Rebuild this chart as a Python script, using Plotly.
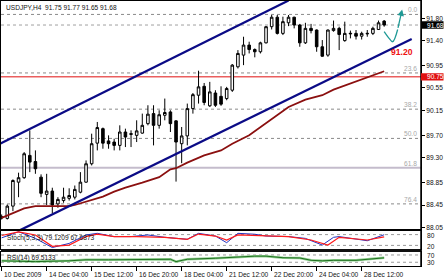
import plotly.graph_objects as go

W, H = 448, 280

# ---------------- data ----------------
bars = list(range(69))
opens = [88.24, 88.21, 88.43, 88.86, 88.94, 89.34, 89.23, 88.95, 88.64, 88.70,
         88.47, 88.53, 88.57, 88.59, 88.68, 88.86, 89.19, 89.56, 89.82, 89.60,
         89.58, 89.52, 89.76, 89.73, 89.70, 89.74, 89.91, 90.09, 89.88, 90.06,
         90.12, 89.96, 89.55, 89.69, 90.18, 90.42, 90.58, 90.23, 90.46, 90.40,
         90.36, 90.51, 90.93, 91.14, 91.32, 91.24, 91.20, 91.36, 91.65, 91.82,
         91.53, 91.72, 91.82, 91.68, 91.36, 91.62, 91.59, 91.29, 91.14, 91.58,
         91.62, 91.40, 91.52, 91.53, 91.48, 91.52, 91.53, 91.60, 91.75]
highs = [88.28, 88.46, 88.91, 89.03, 89.40, 89.79, 89.43, 89.00, 89.01, 88.76,
         88.59, 88.76, 88.75, 88.80, 89.04, 89.25, 89.73, 89.94, 89.84, 89.70,
         89.64, 89.88, 89.82, 89.79, 89.97, 90.09, 90.24, 90.24, 90.15, 90.36,
         90.15, 89.97, 89.85, 90.27, 90.46, 90.86, 90.64, 90.66, 90.51, 90.58,
         90.57, 90.98, 91.23, 91.47, 91.38, 91.26, 91.38, 91.66, 91.86, 91.86,
         91.83, 91.86, 91.83, 91.70, 91.72, 91.70, 91.60, 91.41, 91.60, 91.76,
         91.65, 91.74, 91.58, 91.59, 91.56, 91.59, 91.65, 91.76, 91.77]
lows = [88.19, 88.19, 88.34, 88.59, 88.92, 89.04, 89.01, 88.59, 88.45, 88.30,
        88.40, 88.49, 88.53, 88.55, 88.66, 88.85, 89.16, 89.43, 89.46, 89.46,
        89.43, 89.43, 89.49, 89.49, 89.58, 89.73, 89.88, 89.52, 89.82, 89.97,
        89.76, 88.87, 89.20, 89.52, 90.09, 90.27, 90.24, 90.21, 90.21, 90.23,
        90.33, 90.48, 90.90, 90.96, 91.17, 91.10, 91.17, 91.35, 91.60, 91.51,
        91.50, 91.66, 91.62, 91.29, 91.34, 91.53, 91.20, 91.11, 91.11, 91.56,
        91.23, 91.38, 91.44, 91.42, 91.42, 91.47, 91.50, 91.59, 91.65]
closes = [88.22, 88.43, 88.89, 88.94, 89.37, 89.22, 89.10, 88.66, 88.70, 88.45,
          88.55, 88.59, 88.62, 88.73, 88.86, 89.19, 89.55, 89.84, 89.56, 89.55,
          89.52, 89.76, 89.67, 89.72, 89.78, 89.88, 90.08, 89.88, 90.07, 90.11,
          89.91, 89.58, 89.69, 90.18, 90.43, 90.57, 90.29, 90.48, 90.24, 90.26,
          90.54, 90.96, 91.17, 91.32, 91.24, 91.20, 91.36, 91.65, 91.82, 91.53,
          91.74, 91.82, 91.68, 91.36, 91.62, 91.58, 91.29, 91.12, 91.59, 91.62,
          91.51, 91.53, 91.53, 91.48, 91.53, 91.53, 91.62, 91.72, 91.68]

ma_x = [0, 2, 4, 6, 9, 12, 13, 15, 18, 20, 22, 25, 28, 30, 31, 33, 36, 39, 41,
        44, 46, 48, 51, 54, 57, 59, 62, 65, 68]
ma_y = [88.22, 88.31, 88.39, 88.43, 88.43, 88.43, 88.45, 88.51, 88.60, 88.69,
        88.76, 88.85, 88.95, 89.09, 89.11, 89.21, 89.34, 89.43, 89.55, 89.70,
        89.85, 90.00, 90.21, 90.34, 90.42, 90.52, 90.63, 90.74, 90.85]

upper_x = [-0.3, 51.0]
upper_y = [89.55, 92.12]
lower_x = [3.3, 72.9]
lower_y = [88.00, 91.43]

path_x = [68.0, 68.8, 69.5, 70.4, 71.2]
path_y = [91.56, 91.45, 91.38, 91.60, 91.96]

fib_levels = [91.87, 90.82, 90.17, 89.645, 89.12, 88.47]
fib_labels = ["0.0", "23.6", "38.2", "50.0", "61.8", "76.4"]

price_ticks = [91.80, 91.40, 90.95, 90.55, 90.15, 89.70, 89.30, 88.85, 88.45, 88.05]
last_price = 91.68
red_level = 90.75
target_label = "91.20"

stk_x = [0, 3, 6, 9, 12, 15, 17, 20, 23, 26, 29, 33, 35, 38, 40, 42, 45, 47,
         51, 54, 57, 59, 60, 62, 65, 68]
stk_k = [62, 96, 59, 8, 31, 78, 87, 69, 69, 78, 65, 54, 87, 72, 35, 87, 82, 72,
         69, 59, 22, 65, 69, 59, 46, 79.12]
sig_x = [0, 3, 6, 9, 12, 15, 17, 20, 24, 29, 33, 35, 38, 40, 42, 45, 51, 55,
         58, 60, 65, 68]
sig_d = [75, 95, 78, 15, 22, 69, 83, 69, 69, 65, 54, 83, 72, 50, 78, 75, 69, 50,
         22, 65, 50, 67.69]
stoch_levels = ["80", "20"]

rsi_x = [0, 6, 12, 15, 19, 23, 28, 30, 31, 33, 38, 41, 45, 47, 50, 53, 55, 57,
         59, 63, 65, 68]
rsi_v = [58, 55, 58, 62, 62, 62, 64, 64, 55, 64, 68, 72, 76, 76, 70, 69, 60, 58,
         60, 60, 64, 69.51]
rsi_levels = ["70", "30"]

date_ticks = [0, 8, 16, 24, 32, 40, 48, 56, 64]
date_labels = ["10 Dec 2009", "14 Dec 04:00", "15 Dec 12:00", "16 Dec 20:00",
               "18 Dec 04:00", "21 Dec 12:00", "22 Dec 20:00", "24 Dec 04:00",
               "28 Dec 12:00"]

# ---------------- layout helpers ----------------
FONT = "Liberation Sans"
FS = 6.6


def fx(p):
    return p / W


def fy(p):
    return 1 - p / H


XL, XR = 1, 421
XRANGE = [-0.12, 74.55]

fig = go.Figure()

fig.add_trace(go.Candlestick(
    x=bars, open=opens, high=highs, low=lows, close=closes,
    increasing=dict(fillcolor="white", line=dict(color="black", width=1)),
    decreasing=dict(fillcolor="black", line=dict(color="black", width=1)),
    whiskerwidth=0, xaxis="x", yaxis="y", hoverinfo="skip"))

fig.add_trace(go.Scatter(x=ma_x, y=ma_y, mode="lines", line=dict(color="#8b1010", width=1.8),
                         xaxis="x", yaxis="y"))
fig.add_trace(go.Scatter(x=upper_x, y=upper_y, mode="lines", line=dict(color="#0b0b86", width=2.2),
                         xaxis="x", yaxis="y"))
fig.add_trace(go.Scatter(x=lower_x, y=lower_y, mode="lines", line=dict(color="#0b0b86", width=2.2),
                         xaxis="x", yaxis="y"))
fig.add_trace(go.Scatter(x=path_x[:-1], y=path_y[:-1], mode="lines",
                         line=dict(color="#1f9a96", width=1.3, shape="spline"),
                         xaxis="x", yaxis="y"))

# stochastic
fig.add_trace(go.Scatter(x=stk_x, y=stk_k, mode="lines", line=dict(color="#2030c0", width=1),
                         xaxis="x2", yaxis="y2"))
fig.add_trace(go.Scatter(x=sig_x, y=sig_d, mode="lines", line=dict(color="#ff1a1a", width=1.2),
                         xaxis="x2", yaxis="y2"))
# RSI
fig.add_trace(go.Scatter(x=rsi_x, y=rsi_v, mode="lines", line=dict(color="#90d090", width=2.5),
                         xaxis="x3", yaxis="y3"))
fig.add_trace(go.Scatter(x=rsi_x, y=rsi_v, mode="lines", line=dict(color="#1e6e1e", width=1),
                         xaxis="x3", yaxis="y3"))

axcommon = dict(showgrid=False, zeroline=False, showline=True, mirror=True,
                linecolor="black", linewidth=1, range=XRANGE,
                domain=[fx(XL), fx(XR)], fixedrange=True)

layout = dict(
    width=W, height=H, margin=dict(l=0, r=0, t=0, b=0),
    paper_bgcolor="white", plot_bgcolor="white", showlegend=False,
    boxgap=0.35,
    font=dict(family=FONT, size=FS, color="#111"),
    xaxis=dict(anchor="y", showticklabels=False, ticks="", rangeslider=dict(visible=False), **axcommon),
    xaxis2=dict(anchor="y2", showticklabels=False, ticks="", matches="x", **axcommon),
    xaxis3=dict(anchor="y3", showticklabels=False, ticks="outside", ticklen=4, tickcolor="black",
                tickvals=date_ticks, matches="x", **axcommon),
    yaxis=dict(anchor="x", domain=[fy(229.3), fy(1)], range=[88.014, 92.111], side="right",
               showgrid=False, zeroline=False, showline=True, mirror=True, linecolor="black",
               linewidth=1, ticks="outside", ticklen=3, tickcolor="black",
               tickvals=price_ticks, ticktext=["%.2f" % v for v in price_ticks],
               tickfont=dict(family=FONT, size=FS, color="#111"), fixedrange=True),
    yaxis2=dict(anchor="x2", domain=[fy(249), fy(231)], range=[0, 100], showgrid=False,
                zeroline=False, showline=True, mirror=True, linecolor="black",
                showticklabels=False, ticks="", fixedrange=True),
    yaxis3=dict(anchor="x3", domain=[fy(265.5), fy(252)], range=[40, 92], showgrid=False,
                zeroline=False, showline=True, mirror=True, linecolor="black",
                showticklabels=False, ticks="", fixedrange=True),
)
fig.update_layout(**layout)

shapes = []
for lv, lb in zip(fib_levels, fib_labels):
    if lb == "61.8":
        shapes.append(dict(type="line", xref="paper", yref="y", x0=fx(XL), x1=fx(XR), y0=lv, y1=lv,
                           line=dict(color="#c4bccc", width=2), layer="below"))
    else:
        shapes.append(dict(type="line", xref="paper", yref="y", x0=fx(XL), x1=fx(XR), y0=lv, y1=lv,
                           line=dict(color="#8a8a8a", width=1, dash="dot"), layer="below"))
shapes.append(dict(type="line", xref="paper", yref="y", x0=fx(XL), x1=fx(XR), y0=last_price,
                   y1=last_price, line=dict(color="#a0a0a0", width=1, dash="dot"), layer="below"))
shapes.append(dict(type="line", xref="paper", yref="y", x0=fx(XL), x1=fx(XR), y0=red_level,
                   y1=red_level, line=dict(color="#e01010", width=1), layer="below"))
# stoch levels
for lv in (80, 20):
    shapes.append(dict(type="line", xref="paper", yref="y2", x0=fx(XL), x1=fx(XR), y0=lv, y1=lv,
                       line=dict(color="#9a9a9a", width=1, dash="dot"), layer="below"))
for fr in (0.78, 0.24):
    shapes.append(dict(type="line", xref="paper", yref="y3 domain", x0=fx(XL), x1=fx(XR), y0=fr, y1=fr,
                       line=dict(color="#9a9a9a", width=1, dash="dot"), layer="below"))
# separator band
shapes.append(dict(type="rect", xref="paper", yref="paper", x0=fx(XL), x1=fx(XR + 0.5),
                   y0=fy(252), y1=fy(249), fillcolor="#111", line=dict(width=0)))
# right axis line
shapes.append(dict(type="line", xref="paper", yref="paper", x0=fx(XR), x1=fx(XR), y0=fy(266),
                   y1=fy(0.5), line=dict(color="black", width=1.5)))
# price boxes
for val, col in ((last_price, "#000000"), (red_level, "#e01010")):
    shapes.append(dict(type="rect", xref="paper", yref="y", x0=fx(XR), x1=fx(443.5),
                       y0=val - 0.066, y1=val + 0.066, fillcolor=col, line=dict(width=0)))
fig.update_layout(shapes=shapes)

ann = []
ann.append(dict(text="USDJPY,H4\u00a0\u00a091.75 91.77 91.65 91.68", xref="paper", yref="paper",
                x=fx(4), y=fy(7.5), xanchor="left", yanchor="middle", showarrow=False,
                font=dict(family=FONT, size=FS, color="#111")))
for lv, lb in zip(fib_levels, fib_labels):
    ann.append(dict(text=lb, xref="paper", yref="y", x=fx(419), y=lv, xanchor="right",
                    yanchor="bottom", yshift=-1, showarrow=False,
                    font=dict(family=FONT, size=FS, color="#a8a8a8")))
for val in (last_price, red_level):
    ann.append(dict(text="%.2f" % val, xref="paper", yref="y", x=fx(424.5), y=val, xanchor="left",
                    yanchor="middle", showarrow=False, font=dict(family=FONT, size=FS, color="white")))
ann.append(dict(text="<b>%s</b>" % target_label, xref="x", yref="y", x=71.2, y=91.19,
                xanchor="center", yanchor="middle", showarrow=False,
                font=dict(family=FONT, size=8.6, color="#ee1111")))
ann.append(dict(x=path_x[-1], y=path_y[-1], ax=path_x[-2], ay=path_y[-2], xref="x", yref="y",
                axref="x", ayref="y", showarrow=True, arrowhead=2, arrowsize=1, arrowwidth=1.3,
                arrowcolor="#1f9a96", text=""))
ann.append(dict(text="Stoch(5,3,3) 79.1209 67.6873", xref="paper", yref="paper", x=fx(4.5),
                y=fy(237.5), xanchor="left", yanchor="middle", showarrow=False,
                font=dict(family=FONT, size=FS, color="#111")))
ann.append(dict(text="RSI(14) 69.5133", xref="paper", yref="paper", x=fx(4.5), y=fy(257.5),
                xanchor="left", yanchor="middle", showarrow=False,
                font=dict(family=FONT, size=FS, color="#111")))
for txt, yy in zip(stoch_levels + rsi_levels, (235, 246, 255.3, 262.3)):
    ann.append(dict(text=txt, xref="paper", yref="paper", x=fx(424.5), y=fy(yy), xanchor="left",
                    yanchor="middle", showarrow=False, font=dict(family=FONT, size=FS, color="#111")))
for tv, tl in zip(date_ticks, date_labels):
    ann.append(dict(text=tl, xref="x3", yref="paper", x=tv, y=fy(274), xanchor="left",
                    yanchor="middle", xshift=0.5, showarrow=False,
                    font=dict(family=FONT, size=FS, color="#111")))
fig.update_layout(annotations=ann)

fig.write_html("out.html")
